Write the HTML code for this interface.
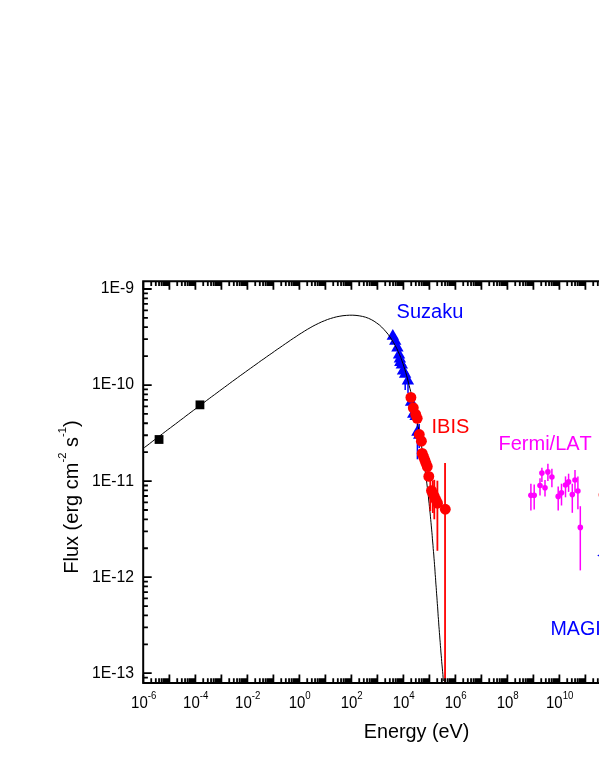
<!DOCTYPE html>
<html><head><meta charset="utf-8"><title>SED</title>
<style>html,body{margin:0;padding:0;background:#fff;}body{width:599px;height:776px;overflow:hidden;position:relative;font-family:"Liberation Sans",sans-serif;}</style>
</head><body>
<svg width="599" height="776" viewBox="0 0 599 776" style="position:absolute;left:0;top:0;will-change:transform;font-kerning:none;font-family:'Liberation Sans',sans-serif">
<rect width="599" height="776" fill="#fff"/>
<rect x="154.65" y="435.10" width="8.8" height="8.8" fill="#000"/>
<rect x="195.55" y="400.45" width="8.8" height="8.8" fill="#000"/>
<line x1="405.2" y1="380" x2="405.2" y2="389.9" stroke="#0000ff" stroke-width="1.5"/>
<line x1="408.0" y1="380" x2="408.0" y2="392.9" stroke="#0000ff" stroke-width="1.5"/>
<line x1="417.4" y1="424" x2="417.4" y2="459.3" stroke="#0000ff" stroke-width="1.5"/>
<line x1="419.2" y1="424" x2="419.2" y2="448" stroke="#0000ff" stroke-width="1.5"/>
<path d="M392.80,329.10 L399.00,339.70 L386.60,339.70Z" fill="#0000ff"/>
<path d="M395.25,334.20 L401.45,344.80 L389.05,344.80Z" fill="#0000ff"/>
<path d="M397.40,340.80 L403.60,351.40 L391.20,351.40Z" fill="#0000ff"/>
<path d="M399.05,347.80 L405.25,358.40 L392.85,358.40Z" fill="#0000ff"/>
<path d="M399.90,352.00 L406.10,362.60 L393.70,362.60Z" fill="#0000ff"/>
<path d="M400.30,355.50 L406.50,366.10 L394.10,366.10Z" fill="#0000ff"/>
<path d="M401.80,357.90 L408.00,368.50 L395.60,368.50Z" fill="#0000ff"/>
<path d="M403.00,363.90 L409.20,374.50 L396.80,374.50Z" fill="#0000ff"/>
<path d="M405.10,367.10 L411.30,377.70 L398.90,377.70Z" fill="#0000ff"/>
<path d="M407.90,373.80 L414.10,384.40 L401.70,384.40Z" fill="#0000ff"/>
<path d="M411.10,395.10 L417.30,405.70 L404.90,405.70Z" fill="#0000ff"/>
<path d="M413.20,407.15 L419.40,417.75 L407.00,417.75Z" fill="#0000ff"/>
<path d="M415.60,409.30 L421.80,419.90 L409.40,419.90Z" fill="#0000ff"/>
<path d="M417.40,425.10 L423.60,435.70 L411.20,435.70Z" fill="#0000ff"/>
<path d="M419.20,428.10 L425.40,438.70 L413.00,438.70Z" fill="#0000ff"/>
<path d="M144.3,447.6 L147.0,445.6 L149.6,443.6 L152.2,441.6 L154.8,439.6 L157.4,437.7 L160.0,435.7 L162.6,433.7 L165.2,431.7 L167.8,429.7 L170.4,427.8 L173.0,425.8 L175.6,423.9 L178.2,421.9 L180.8,419.9 L183.4,418.0 L185.9,416.0 L188.5,414.1 L191.1,412.1 L193.7,410.2 L196.3,408.3 L198.8,406.3 L201.4,404.4 L204.0,402.5 L206.6,400.5 L209.2,398.6 L211.7,396.7 L214.3,394.8 L216.9,392.9 L219.5,390.9 L222.1,389.0 L224.7,387.1 L227.3,385.2 L229.8,383.3 L232.4,381.4 L235.0,379.5 L237.6,377.6 L240.2,375.7 L242.9,373.8 L245.5,371.9 L248.1,370.0 L250.7,368.2 L253.3,366.3 L256.0,364.4 L258.6,362.5 L261.2,360.6 L263.9,358.8 L266.5,356.9 L269.2,355.0 L271.9,353.2 L274.5,351.3 L277.2,349.4 L279.9,347.6 L282.6,345.7 L285.3,343.8 L288.0,342.0 L290.7,340.1 L293.4,338.3 L296.2,336.5 L298.9,334.6 L301.7,332.9 L304.5,331.1 L307.3,329.4 L310.1,327.8 L312.9,326.2 L315.8,324.7 L318.7,323.3 L321.6,321.9 L324.6,320.7 L327.5,319.5 L330.6,318.5 L333.6,317.6 L336.7,316.8 L339.9,316.2 L343.0,315.7 L346.3,315.4 L349.5,315.2 L352.8,315.2 L356.0,315.4 L359.2,315.8 L362.4,316.4 L365.5,317.2 L368.5,318.3 L371.3,319.6 L374.1,321.2 L376.7,323.0 L379.3,324.9 L381.7,327.1 L383.9,329.4 L386.1,331.9 L388.2,334.4 L390.1,337.1 L391.9,339.9 L393.6,342.7 L395.2,345.5 L396.7,348.4 L398.1,351.4 L399.4,354.3 L400.7,357.3 L401.8,360.4 L402.9,363.4 L403.9,366.5 L404.9,369.6 L405.8,372.7 L406.7,375.8 L407.5,378.9 L408.3,382.1 L409.1,385.2 L409.9,388.4 L410.7,391.5 L411.4,394.7 L412.2,397.8 L412.9,401.0 L413.6,404.1 L414.3,407.3 L415.0,410.5 L415.6,413.6 L416.3,416.8 L416.9,420.0 L417.5,423.2 L418.1,426.3 L418.7,429.5 L419.3,432.7 L419.8,435.9 L420.4,439.1 L420.9,442.3 L421.4,445.5 L422.0,448.7 L422.5,451.9 L422.9,455.1 L423.4,458.3 L423.9,461.5 L424.3,464.7 L424.8,467.9 L425.2,471.1 L425.6,474.3 L426.1,477.5 L426.5,480.7 L426.9,483.9 L427.3,487.2 L427.6,490.4 L428.0,493.6 L428.4,496.8 L428.7,500.0 L429.1,503.3 L429.4,506.5 L429.7,509.7 L430.1,512.9 L430.4,516.2 L430.7,519.4 L431.0,522.6 L431.3,525.9 L431.6,529.1 L431.9,532.3 L432.2,535.6 L432.4,538.8 L432.7,542.0 L433.0,545.3 L433.2,548.5 L433.5,551.7 L433.8,555.0 L434.0,558.2 L434.3,561.4 L434.5,564.7 L434.8,567.9 L435.0,571.2 L435.2,574.4 L435.5,577.6 L435.7,580.9 L435.9,584.1 L436.2,587.3 L436.4,590.6 L436.6,593.8 L436.9,597.1 L437.1,600.3 L437.3,603.5 L437.6,606.8 L437.8,610.0 L438.0,613.2 L438.2,616.5 L438.5,619.7 L438.7,622.9 L438.9,626.2 L439.2,629.4 L439.4,632.6 L439.7,635.9 L439.9,639.1 L440.2,642.3 L440.4,645.6 L440.7,648.8 L440.9,652.0 L441.2,655.2 L441.5,658.5 L441.7,661.7 L442.0,664.9 L442.3,668.1 L442.6,671.3 L442.9,674.6 L443.1,677.8 L443.4,681.0" fill="none" stroke="#000" stroke-width="1" stroke-linejoin="round"/>
<line x1="430.3" y1="480.4" x2="430.3" y2="511" stroke="#ff0000" stroke-width="1.8"/>
<line x1="432.8" y1="480.4" x2="432.8" y2="513" stroke="#ff0000" stroke-width="1.8"/>
<line x1="434.3" y1="479.8" x2="434.3" y2="519.3" stroke="#ff0000" stroke-width="1.8"/>
<line x1="437.4" y1="480.7" x2="437.4" y2="550.8" stroke="#ff0000" stroke-width="1.8"/>
<line x1="445.05" y1="463" x2="445.05" y2="683" stroke="#ff0000" stroke-width="1.8"/>
<circle cx="410.9" cy="397.4" r="5.45" fill="#ff0000"/>
<circle cx="413.3" cy="407.8" r="5.45" fill="#ff0000"/>
<circle cx="415.7" cy="414.4" r="5.45" fill="#ff0000"/>
<circle cx="417.2" cy="418.3" r="5.45" fill="#ff0000"/>
<circle cx="419.3" cy="434.5" r="5.45" fill="#ff0000"/>
<circle cx="421.4" cy="441.2" r="5.45" fill="#ff0000"/>
<circle cx="422.2" cy="453.4" r="5.45" fill="#ff0000"/>
<circle cx="423.5" cy="456.7" r="5.45" fill="#ff0000"/>
<circle cx="424.8" cy="460" r="5.45" fill="#ff0000"/>
<circle cx="426" cy="463.3" r="5.45" fill="#ff0000"/>
<circle cx="427.3" cy="466.6" r="5.45" fill="#ff0000"/>
<circle cx="428.8" cy="476.4" r="5.45" fill="#ff0000"/>
<circle cx="431.5" cy="490.6" r="5.45" fill="#ff0000"/>
<circle cx="433" cy="493.8" r="5.45" fill="#ff0000"/>
<circle cx="434.5" cy="496.9" r="5.45" fill="#ff0000"/>
<circle cx="436" cy="500" r="5.45" fill="#ff0000"/>
<circle cx="437.5" cy="503.2" r="5.45" fill="#ff0000"/>
<circle cx="445.3" cy="509.25" r="5.45" fill="#ff0000"/>
<line x1="530.9" y1="483.7" x2="530.9" y2="510.4" stroke="#ff00ff" stroke-width="1.5"/>
<line x1="534.2" y1="484.6" x2="534.2" y2="509.5" stroke="#ff00ff" stroke-width="1.5"/>
<line x1="540" y1="478.2" x2="540" y2="495.5" stroke="#ff00ff" stroke-width="1.5"/>
<line x1="541.9" y1="467.7" x2="541.9" y2="481.9" stroke="#ff00ff" stroke-width="1.5"/>
<line x1="545" y1="480" x2="545" y2="496.4" stroke="#ff00ff" stroke-width="1.5"/>
<line x1="547.9" y1="463.7" x2="547.9" y2="481" stroke="#ff00ff" stroke-width="1.5"/>
<line x1="551.9" y1="468.8" x2="551.9" y2="487.3" stroke="#ff00ff" stroke-width="1.5"/>
<line x1="558.2" y1="486.4" x2="558.2" y2="510.4" stroke="#ff00ff" stroke-width="1.5"/>
<line x1="561.5" y1="483.7" x2="561.5" y2="505.5" stroke="#ff00ff" stroke-width="1.5"/>
<line x1="565.5" y1="476.4" x2="565.5" y2="497.3" stroke="#ff00ff" stroke-width="1.5"/>
<line x1="568.6" y1="473.7" x2="568.6" y2="491.9" stroke="#ff00ff" stroke-width="1.5"/>
<line x1="572.3" y1="483.7" x2="572.3" y2="512.8" stroke="#ff00ff" stroke-width="1.5"/>
<line x1="575" y1="470" x2="575" y2="492.8" stroke="#ff00ff" stroke-width="1.5"/>
<line x1="577.9" y1="476.4" x2="577.9" y2="509.2" stroke="#ff00ff" stroke-width="1.5"/>
<line x1="580.3" y1="506.2" x2="580.3" y2="570.4" stroke="#ff00ff" stroke-width="1.5"/>
<circle cx="530.9" cy="495.2" r="2.8" fill="#ff00ff"/>
<circle cx="534.2" cy="495.2" r="2.8" fill="#ff00ff"/>
<circle cx="540" cy="485.5" r="2.8" fill="#ff00ff"/>
<circle cx="541.9" cy="473.1" r="2.8" fill="#ff00ff"/>
<circle cx="545" cy="487.7" r="2.8" fill="#ff00ff"/>
<circle cx="547.9" cy="471.9" r="2.8" fill="#ff00ff"/>
<circle cx="551.9" cy="477" r="2.8" fill="#ff00ff"/>
<circle cx="558.2" cy="496.4" r="2.8" fill="#ff00ff"/>
<circle cx="561.5" cy="492.8" r="2.8" fill="#ff00ff"/>
<circle cx="565.5" cy="485" r="2.8" fill="#ff00ff"/>
<circle cx="568.6" cy="481.9" r="2.8" fill="#ff00ff"/>
<circle cx="572.3" cy="494.6" r="2.8" fill="#ff00ff"/>
<circle cx="575" cy="480" r="2.8" fill="#ff00ff"/>
<circle cx="577.9" cy="491" r="2.8" fill="#ff00ff"/>
<circle cx="580.3" cy="527.4" r="2.8" fill="#ff00ff"/>
<circle cx="604.2" cy="494.8" r="5.6" fill="#ff0000"/>
<path d="M597.2,555.5 L602,552.6 L602,558.4Z" fill="#0000ff"/>
<path d="M143.40,683.0 V674.5 M143.40,281.35 V289.85 M151.23,683.0 V678.3 M151.23,281.35 V286.05 M155.81,683.0 V678.3 M155.81,281.35 V286.05 M159.05,683.0 V678.3 M159.05,281.35 V286.05 M161.57,683.0 V678.3 M161.57,281.35 V286.05 M163.63,683.0 V678.3 M163.63,281.35 V286.05 M165.37,683.0 V678.3 M165.37,281.35 V286.05 M166.88,683.0 V678.3 M166.88,281.35 V286.05 M168.21,683.0 V678.3 M168.21,281.35 V286.05 M169.40,683.0 V674.5 M169.40,281.35 V289.85 M177.23,683.0 V678.3 M177.23,281.35 V286.05 M181.81,683.0 V678.3 M181.81,281.35 V286.05 M185.05,683.0 V678.3 M185.05,281.35 V286.05 M187.57,683.0 V678.3 M187.57,281.35 V286.05 M189.63,683.0 V678.3 M189.63,281.35 V286.05 M191.37,683.0 V678.3 M191.37,281.35 V286.05 M192.88,683.0 V678.3 M192.88,281.35 V286.05 M194.21,683.0 V678.3 M194.21,281.35 V286.05 M195.40,683.0 V674.5 M195.40,281.35 V289.85 M203.23,683.0 V678.3 M203.23,281.35 V286.05 M207.81,683.0 V678.3 M207.81,281.35 V286.05 M211.05,683.0 V678.3 M211.05,281.35 V286.05 M213.57,683.0 V678.3 M213.57,281.35 V286.05 M215.63,683.0 V678.3 M215.63,281.35 V286.05 M217.37,683.0 V678.3 M217.37,281.35 V286.05 M218.88,683.0 V678.3 M218.88,281.35 V286.05 M220.21,683.0 V678.3 M220.21,281.35 V286.05 M221.40,683.0 V674.5 M221.40,281.35 V289.85 M229.23,683.0 V678.3 M229.23,281.35 V286.05 M233.81,683.0 V678.3 M233.81,281.35 V286.05 M237.05,683.0 V678.3 M237.05,281.35 V286.05 M239.57,683.0 V678.3 M239.57,281.35 V286.05 M241.63,683.0 V678.3 M241.63,281.35 V286.05 M243.37,683.0 V678.3 M243.37,281.35 V286.05 M244.88,683.0 V678.3 M244.88,281.35 V286.05 M246.21,683.0 V678.3 M246.21,281.35 V286.05 M247.40,683.0 V674.5 M247.40,281.35 V289.85 M255.23,683.0 V678.3 M255.23,281.35 V286.05 M259.81,683.0 V678.3 M259.81,281.35 V286.05 M263.05,683.0 V678.3 M263.05,281.35 V286.05 M265.57,683.0 V678.3 M265.57,281.35 V286.05 M267.63,683.0 V678.3 M267.63,281.35 V286.05 M269.37,683.0 V678.3 M269.37,281.35 V286.05 M270.88,683.0 V678.3 M270.88,281.35 V286.05 M272.21,683.0 V678.3 M272.21,281.35 V286.05 M273.40,683.0 V674.5 M273.40,281.35 V289.85 M281.23,683.0 V678.3 M281.23,281.35 V286.05 M285.81,683.0 V678.3 M285.81,281.35 V286.05 M289.05,683.0 V678.3 M289.05,281.35 V286.05 M291.57,683.0 V678.3 M291.57,281.35 V286.05 M293.63,683.0 V678.3 M293.63,281.35 V286.05 M295.37,683.0 V678.3 M295.37,281.35 V286.05 M296.88,683.0 V678.3 M296.88,281.35 V286.05 M298.21,683.0 V678.3 M298.21,281.35 V286.05 M299.40,683.0 V674.5 M299.40,281.35 V289.85 M307.23,683.0 V678.3 M307.23,281.35 V286.05 M311.81,683.0 V678.3 M311.81,281.35 V286.05 M315.05,683.0 V678.3 M315.05,281.35 V286.05 M317.57,683.0 V678.3 M317.57,281.35 V286.05 M319.63,683.0 V678.3 M319.63,281.35 V286.05 M321.37,683.0 V678.3 M321.37,281.35 V286.05 M322.88,683.0 V678.3 M322.88,281.35 V286.05 M324.21,683.0 V678.3 M324.21,281.35 V286.05 M325.40,683.0 V674.5 M325.40,281.35 V289.85 M333.23,683.0 V678.3 M333.23,281.35 V286.05 M337.81,683.0 V678.3 M337.81,281.35 V286.05 M341.05,683.0 V678.3 M341.05,281.35 V286.05 M343.57,683.0 V678.3 M343.57,281.35 V286.05 M345.63,683.0 V678.3 M345.63,281.35 V286.05 M347.37,683.0 V678.3 M347.37,281.35 V286.05 M348.88,683.0 V678.3 M348.88,281.35 V286.05 M350.21,683.0 V678.3 M350.21,281.35 V286.05 M351.40,683.0 V674.5 M351.40,281.35 V289.85 M359.23,683.0 V678.3 M359.23,281.35 V286.05 M363.81,683.0 V678.3 M363.81,281.35 V286.05 M367.05,683.0 V678.3 M367.05,281.35 V286.05 M369.57,683.0 V678.3 M369.57,281.35 V286.05 M371.63,683.0 V678.3 M371.63,281.35 V286.05 M373.37,683.0 V678.3 M373.37,281.35 V286.05 M374.88,683.0 V678.3 M374.88,281.35 V286.05 M376.21,683.0 V678.3 M376.21,281.35 V286.05 M377.40,683.0 V674.5 M377.40,281.35 V289.85 M385.23,683.0 V678.3 M385.23,281.35 V286.05 M389.81,683.0 V678.3 M389.81,281.35 V286.05 M393.05,683.0 V678.3 M393.05,281.35 V286.05 M395.57,683.0 V678.3 M395.57,281.35 V286.05 M397.63,683.0 V678.3 M397.63,281.35 V286.05 M399.37,683.0 V678.3 M399.37,281.35 V286.05 M400.88,683.0 V678.3 M400.88,281.35 V286.05 M402.21,683.0 V678.3 M402.21,281.35 V286.05 M403.40,683.0 V674.5 M403.40,281.35 V289.85 M411.23,683.0 V678.3 M411.23,281.35 V286.05 M415.81,683.0 V678.3 M415.81,281.35 V286.05 M419.05,683.0 V678.3 M419.05,281.35 V286.05 M421.57,683.0 V678.3 M421.57,281.35 V286.05 M423.63,683.0 V678.3 M423.63,281.35 V286.05 M425.37,683.0 V678.3 M425.37,281.35 V286.05 M426.88,683.0 V678.3 M426.88,281.35 V286.05 M428.21,683.0 V678.3 M428.21,281.35 V286.05 M429.40,683.0 V674.5 M429.40,281.35 V289.85 M437.23,683.0 V678.3 M437.23,281.35 V286.05 M441.81,683.0 V678.3 M441.81,281.35 V286.05 M445.05,683.0 V678.3 M445.05,281.35 V286.05 M447.57,683.0 V678.3 M447.57,281.35 V286.05 M449.63,683.0 V678.3 M449.63,281.35 V286.05 M451.37,683.0 V678.3 M451.37,281.35 V286.05 M452.88,683.0 V678.3 M452.88,281.35 V286.05 M454.21,683.0 V678.3 M454.21,281.35 V286.05 M455.40,683.0 V674.5 M455.40,281.35 V289.85 M463.23,683.0 V678.3 M463.23,281.35 V286.05 M467.81,683.0 V678.3 M467.81,281.35 V286.05 M471.05,683.0 V678.3 M471.05,281.35 V286.05 M473.57,683.0 V678.3 M473.57,281.35 V286.05 M475.63,683.0 V678.3 M475.63,281.35 V286.05 M477.37,683.0 V678.3 M477.37,281.35 V286.05 M478.88,683.0 V678.3 M478.88,281.35 V286.05 M480.21,683.0 V678.3 M480.21,281.35 V286.05 M481.40,683.0 V674.5 M481.40,281.35 V289.85 M489.23,683.0 V678.3 M489.23,281.35 V286.05 M493.81,683.0 V678.3 M493.81,281.35 V286.05 M497.05,683.0 V678.3 M497.05,281.35 V286.05 M499.57,683.0 V678.3 M499.57,281.35 V286.05 M501.63,683.0 V678.3 M501.63,281.35 V286.05 M503.37,683.0 V678.3 M503.37,281.35 V286.05 M504.88,683.0 V678.3 M504.88,281.35 V286.05 M506.21,683.0 V678.3 M506.21,281.35 V286.05 M507.40,683.0 V674.5 M507.40,281.35 V289.85 M515.23,683.0 V678.3 M515.23,281.35 V286.05 M519.81,683.0 V678.3 M519.81,281.35 V286.05 M523.05,683.0 V678.3 M523.05,281.35 V286.05 M525.57,683.0 V678.3 M525.57,281.35 V286.05 M527.63,683.0 V678.3 M527.63,281.35 V286.05 M529.37,683.0 V678.3 M529.37,281.35 V286.05 M530.88,683.0 V678.3 M530.88,281.35 V286.05 M532.21,683.0 V678.3 M532.21,281.35 V286.05 M533.40,683.0 V674.5 M533.40,281.35 V289.85 M541.23,683.0 V678.3 M541.23,281.35 V286.05 M545.81,683.0 V678.3 M545.81,281.35 V286.05 M549.05,683.0 V678.3 M549.05,281.35 V286.05 M551.57,683.0 V678.3 M551.57,281.35 V286.05 M553.63,683.0 V678.3 M553.63,281.35 V286.05 M555.37,683.0 V678.3 M555.37,281.35 V286.05 M556.88,683.0 V678.3 M556.88,281.35 V286.05 M558.21,683.0 V678.3 M558.21,281.35 V286.05 M559.40,683.0 V674.5 M559.40,281.35 V289.85 M567.23,683.0 V678.3 M567.23,281.35 V286.05 M571.81,683.0 V678.3 M571.81,281.35 V286.05 M575.05,683.0 V678.3 M575.05,281.35 V286.05 M577.57,683.0 V678.3 M577.57,281.35 V286.05 M579.63,683.0 V678.3 M579.63,281.35 V286.05 M581.37,683.0 V678.3 M581.37,281.35 V286.05 M582.88,683.0 V678.3 M582.88,281.35 V286.05 M584.21,683.0 V678.3 M584.21,281.35 V286.05 M585.40,683.0 V674.5 M585.40,281.35 V289.85 M593.23,683.0 V678.3 M593.23,281.35 V286.05 M597.81,683.0 V678.3 M597.81,281.35 V286.05 M143.2,677.60 H147.89999999999998 M143.2,673.20 H151.7 M143.2,644.29 H147.89999999999998 M143.2,627.37 H147.89999999999998 M143.2,615.37 H147.89999999999998 M143.2,606.06 H147.89999999999998 M143.2,598.46 H147.89999999999998 M143.2,592.03 H147.89999999999998 M143.2,586.46 H147.89999999999998 M143.2,581.55 H147.89999999999998 M143.2,577.15 H151.7 M143.2,548.24 H147.89999999999998 M143.2,531.32 H147.89999999999998 M143.2,519.32 H147.89999999999998 M143.2,510.01 H147.89999999999998 M143.2,502.41 H147.89999999999998 M143.2,495.98 H147.89999999999998 M143.2,490.41 H147.89999999999998 M143.2,485.50 H147.89999999999998 M143.2,481.10 H151.7 M143.2,452.19 H147.89999999999998 M143.2,435.27 H147.89999999999998 M143.2,423.27 H147.89999999999998 M143.2,413.96 H147.89999999999998 M143.2,406.36 H147.89999999999998 M143.2,399.93 H147.89999999999998 M143.2,394.36 H147.89999999999998 M143.2,389.45 H147.89999999999998 M143.2,385.05 H151.7 M143.2,356.14 H147.89999999999998 M143.2,339.22 H147.89999999999998 M143.2,327.22 H147.89999999999998 M143.2,317.91 H147.89999999999998 M143.2,310.31 H147.89999999999998 M143.2,303.88 H147.89999999999998 M143.2,298.31 H147.89999999999998 M143.2,293.40 H147.89999999999998 M143.2,289.00 H151.7" stroke="#000" stroke-width="1.8" fill="none"/>
<path d="M601,281.35 H143.2 V683.0 H601" stroke="#000" stroke-width="2.0" fill="none" stroke-linecap="square" stroke-linejoin="miter"/>
<text x="134.1" y="293.2" font-size="15.8" text-anchor="end" fill="#000">1E-9</text>
<text x="134.1" y="389.4" font-size="15.8" text-anchor="end" fill="#000">1E-10</text>
<text x="134.1" y="486.3" font-size="15.8" text-anchor="end" fill="#000">1E-11</text>
<text x="134.1" y="582.2" font-size="15.8" text-anchor="end" fill="#000">1E-12</text>
<text x="134.1" y="678.3" font-size="15.8" text-anchor="end" fill="#000">1E-13</text>
<text transform="translate(143.7,707.6) scale(0.95,1)" font-size="15.8" text-anchor="middle" fill="#000">10<tspan font-size="10.2" dy="-8.2">-6</tspan></text>
<text transform="translate(195.7,707.6) scale(0.95,1)" font-size="15.8" text-anchor="middle" fill="#000">10<tspan font-size="10.2" dy="-8.2">-4</tspan></text>
<text transform="translate(247.7,707.6) scale(0.95,1)" font-size="15.8" text-anchor="middle" fill="#000">10<tspan font-size="10.2" dy="-8.2">-2</tspan></text>
<text transform="translate(299.7,707.6) scale(0.95,1)" font-size="15.8" text-anchor="middle" fill="#000">10<tspan font-size="10.2" dy="-8.2">0</tspan></text>
<text transform="translate(351.7,707.6) scale(0.95,1)" font-size="15.8" text-anchor="middle" fill="#000">10<tspan font-size="10.2" dy="-8.2">2</tspan></text>
<text transform="translate(403.7,707.6) scale(0.95,1)" font-size="15.8" text-anchor="middle" fill="#000">10<tspan font-size="10.2" dy="-8.2">4</tspan></text>
<text transform="translate(455.7,707.6) scale(0.95,1)" font-size="15.8" text-anchor="middle" fill="#000">10<tspan font-size="10.2" dy="-8.2">6</tspan></text>
<text transform="translate(507.7,707.6) scale(0.95,1)" font-size="15.8" text-anchor="middle" fill="#000">10<tspan font-size="10.2" dy="-8.2">8</tspan></text>
<text transform="translate(559.7,707.6) scale(0.95,1)" font-size="15.8" text-anchor="middle" fill="#000">10<tspan font-size="10.2" dy="-8.2">10</tspan></text>
<text x="416.6" y="738.3" font-size="19.8" text-anchor="middle" fill="#000">Energy (eV)</text>
<text transform="translate(77.7,497) rotate(-90)" font-size="20" text-anchor="middle" fill="#000">Flux (erg cm<tspan font-size="11.3" dy="-11.3">-2</tspan><tspan dy="11.3"> s</tspan><tspan font-size="11.3" dy="-11.3">-1</tspan><tspan dy="11.3">)</tspan></text>
<text x="396.6" y="317.5" font-size="20" fill="#0000ff">Suzaku</text>
<text x="431.5" y="433" font-size="20" fill="#ff0000">IBIS</text>
<text x="498.5" y="450" font-size="20" fill="#ff00ff">Fermi/LAT</text>
<text transform="translate(550.5,635.1) scale(0.983,1)" font-size="20" fill="#0000ff">MAGIC</text>
</svg>
</body></html>
